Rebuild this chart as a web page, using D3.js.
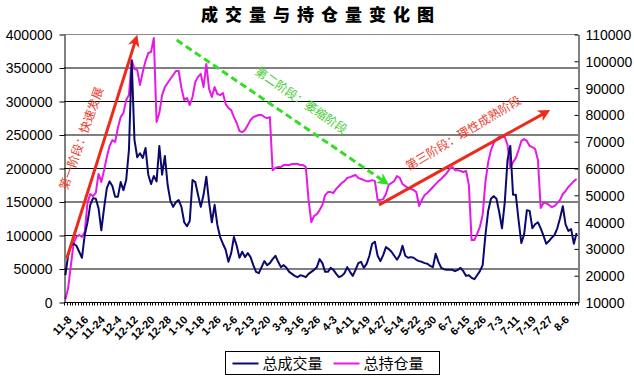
<!DOCTYPE html>
<html>
  <head>
    <meta charset="UTF-8">
    <style>
      body {
        margin: 0;
        background: #fff;
        font-family: "Liberation Sans", Arial, sans-serif;
      }
      .title {
        font-family: "Noto Sans CJK SC", sans-serif;
        font-weight: 900;
        font-size: 17px;
        letter-spacing: 7px;
      }
      .axis text {
        font-family: "Liberation Sans", Arial, sans-serif;
        font-size: 14px;
        fill: #000;
      }
      .xlabel {
        font-family: "Liberation Sans", Arial, sans-serif;
        font-size: 11px;
        font-weight: bold;
      }
      .note {
        font-family: "Noto Sans CJK SC", sans-serif;
        font-size: 12px;
      }
      .legend text {
        font-family: "Noto Sans CJK SC", sans-serif;
        font-size: 15px;
      }
    </style>
    <script src="https://cdn.jsdelivr.net/npm/d3@7"></script>
  </head>

  <body>
    <svg id="chart"></svg>

    <script type="text/javascript">
      // tick labels, one every 6 trading days
      let xLabels = ['11-8', '11-16', '11-24', '12-4', '12-12', '12-20', '12-28', '1-10', '1-18', '1-26',
        '2-6', '2-13', '2-20', '3-8', '3-16', '3-26', '4-3', '4-11', '4-19', '4-27',
        '5-14', '5-22', '5-30', '6-7', '6-15', '6-26', '7-3', '7-11', '7-19', '7-27', '8-6']
      let labelStep = 6

      // 总成交量 (left axis)
      let volume = [
        40000, 70000, 84000, 87000, 84000, 75000, 66000, 100000, 119000, 145000,
        155000, 154000, 140000, 107000, 140000, 170000, 180000, 173000, 157000, 157000,
        179000, 167000, 182000, 227000, 360000, 242000, 216000, 222000, 215000, 230000,
        190000, 176000, 188000, 180000, 233000, 190000, 218000, 175000, 151000, 142000,
        149000, 152000, 142000, 119000, 113000, 121000, 182000, 179000, 160000, 142000,
        160000, 187000, 149000, 119000, 145000, 115000, 97000, 87000, 78000, 60000,
        73000, 97000, 84000, 66000, 75000, 67000, 73000, 67000, 55000, 45000,
        43000, 52000, 61000, 55000, 58000, 64000, 69000, 60000, 52000, 55000,
        51000, 45000, 42000, 39000, 37000, 40000, 39000, 37000, 42000, 45000,
        48000, 52000, 64000, 58000, 45000, 45000, 51000, 48000, 42000, 37000,
        39000, 43000, 52000, 45000, 39000, 48000, 58000, 60000, 51000, 57000,
        69000, 87000, 90000, 69000, 61000, 70000, 82000, 79000, 75000, 69000,
        63000, 70000, 84000, 69000, 66000, 67000, 66000, 63000, 61000, 60000,
        58000, 57000, 54000, 52000, 72000, 60000, 51000, 49000, 48000, 48000,
        48000, 46000, 48000, 51000, 46000, 39000, 40000, 36000, 34000, 40000,
        46000, 55000, 100000, 136000, 154000, 158000, 154000, 134000, 110000, 149000,
        212000, 233000, 160000, 160000, 122000, 88000, 101000, 137000, 136000, 110000,
        116000, 119000, 110000, 99000, 87000, 91000, 96000, 100000, 110000, 125000,
        143000, 116000, 106000, 109000, 87000, 103000
      ]

      // 总持仓量 (right axis)
      let openInterest = [
        11000, 15200, 23800, 32000, 34300, 35000, 34300, 36100, 47000, 50300,
        49500, 50700, 57800, 54800, 59200, 64100, 68200, 70400, 69700, 74900,
        79000, 80500, 85400, 87200, 100300, 96900, 96600, 91000, 95800, 99900,
        102900, 103300, 108500, 77200, 80500, 87200, 90200, 91700, 93200, 94700,
        96200, 96200, 89800, 85400, 86100, 83500, 86500, 92100, 94000, 95100,
        90200, 98800, 89500, 86500, 90200, 87600, 87200, 88000, 83900, 82400,
        81600, 79000, 76800, 73800, 73400, 74200, 76000, 77900, 79000, 79400,
        79800, 79800, 79000, 78600, 79000, 59200, 60000, 60400, 60400, 61100,
        61100, 61100, 61500, 61500, 61500, 61100, 61100, 60400, 48100, 39800,
        42100, 42800, 44300, 46200, 49900, 51000, 51000, 50700, 52200, 53300,
        54400, 55100, 56300, 56600, 57000, 57400, 56300, 55900, 55500, 55100,
        55100, 55500, 55100, 48100, 48100, 48400, 50300, 53700, 54400, 55100,
        57000, 56300, 54000, 53300, 52500, 52200, 51800, 51000, 45800, 48100,
        49900, 50700, 51800, 52900, 54000, 55100, 55900, 57000, 58100, 59600,
        60400, 59200, 59200, 58900, 58500, 58900, 53700, 33100, 33100, 35400,
        38000, 42500, 54800, 62200, 66700, 69300, 70800, 71600, 71600, 71600,
        68600, 60000, 62200, 63700, 66700, 70100, 70800, 70100, 68200, 67800,
        67100, 63000, 45100, 46900, 46900, 46200, 45400, 45800, 46900, 48100,
        50300, 51400, 52900, 54000, 55100, 55900
      ]

      let leftTicks = [0, 50000, 100000, 150000, 200000, 250000, 300000, 350000, 400000]
      let rightTicks = [10000, 20000, 30000, 40000, 50000, 60000, 70000, 80000, 90000, 100000, 110000]

      // phase notes, in (category index, left-axis value); tilt nudges the text angle
      let phases = [
        {text: '第一阶段：快速发展', from: [0.5, 65000], to: [25.5, 392000], at: [5.8, 244000], tilt: 2, color: '#ee2a1a', textColor: '#e8402e', dashed: false},
        {text: '第二阶段：萎缩阶段', from: [40.3, 391000], to: [115.7, 179000], at: [85.3, 301000], tilt: 0, color: '#33dd22', textColor: '#44cc33', dashed: true},
        {text: '第三阶段：理性成熟阶段', from: [113.5, 145000], to: [173.9, 283000], at: [144.0, 252000], tilt: -2, color: '#ee2a1a', textColor: '#e8402e', dashed: false}
      ]

      function getConfig() {
        let width = 634
        let height = 379
        let margin = {top: 34, bottom: 77, left: 64, right: 56}
        let container = d3.select('#chart')
          .attr('width', width)
          .attr('height', height)
        return {width, height, margin, container}
      }

      function getScales(config) {
        let {width, height, margin} = config
        let xScale = d3.scaleBand()
          .domain(d3.range(volume.length))
          .range([margin.left, width - margin.right])
        let yLeft = d3.scaleLinear()
          .domain([0, 400000])
          .range([height - margin.bottom, margin.top])
        let yRight = d3.scaleLinear()
          .domain([10000, 110000])
          .range([height - margin.bottom, margin.top])
        return {xScale, yLeft, yRight}
      }

      function drawFrame(scales, config) {
        let {container, margin, width, height} = config
        let {yLeft} = scales

        container.append('text')
          .attr('class', 'title')
          .attr('x', 321)
          .attr('y', 21)
          .attr('text-anchor', 'middle')
          .text('成交量与持仓量变化图')

        container.append('g')
          .selectAll('line')
          .data(leftTicks.slice(1, -1))
          .enter()
          .append('line')
          .attr('x1', margin.left)
          .attr('x2', width - margin.right)
          .attr('y1', d => yLeft(d) + 0.5)
          .attr('y2', d => yLeft(d) + 0.5)
          .attr('stroke', '#000')

        container.append('line')
          .attr('x1', margin.left)
          .attr('x2', width - margin.right)
          .attr('y1', margin.top + 0.5)
          .attr('y2', margin.top + 0.5)
          .attr('stroke', '#888')
      }

      function drawAxes(scales, config) {
        let {xScale, yLeft, yRight} = scales
        let {container, margin, width, height} = config

        let axisL = d3.axisLeft(yLeft)
          .tickValues(leftTicks)
          .tickSizeInner(5)
          .tickSizeOuter(0)
          .tickPadding(7)
          .tickFormat(d3.format('d'))
        container.append('g')
          .attr('class', 'axis')
          .attr('transform', `translate(${margin.left + 0.5}, 0.5)`)
          .call(axisL)
          .selectAll('text').attr('dy', '0.35em')

        let axisR = d3.axisRight(yRight)
          .tickValues(rightTicks)
          .tickSizeInner(-4)
          .tickSizeOuter(0)
          .tickPadding(7)
          .tickFormat(d3.format('d'))
        container.append('g')
          .attr('class', 'axis')
          .attr('transform', `translate(${width - margin.right + 0.5}, 0.5)`)
          .call(axisR)
          .selectAll('text').attr('dy', '0.35em')

        container.selectAll('.axis path, .axis line').attr('stroke', '#000')

        let baseY = height - margin.bottom + 0.5
        let step = xScale.step()
        let xAxis = container.append('g')
        xAxis.append('line')
          .attr('x1', margin.left)
          .attr('x2', width - margin.right)
          .attr('y1', baseY)
          .attr('y2', baseY)
          .attr('stroke', '#000')
        xAxis.selectAll('.xtick')
          .data(d3.range(volume.length + 1))
          .enter()
          .append('line')
          .attr('class', 'xtick')
          .attr('x1', i => Math.round(margin.left + i * step) + 0.5)
          .attr('x2', i => Math.round(margin.left + i * step) + 0.5)
          .attr('y1', baseY)
          .attr('y2', baseY + 3)
          .attr('stroke', '#000')

        xAxis.selectAll('.xlabel')
          .data(xLabels)
          .enter()
          .append('text')
          .attr('class', 'xlabel')
          .attr('text-anchor', 'end')
          .attr('transform', (d, i) => {
            let x = xScale(i * labelStep) + xScale.bandwidth() / 2 + 7
            return `translate(${x}, ${baseY + 18}) rotate(-45)`
          })
          .text(d => d)
      }

      function drawLines(scales, config) {
        let {xScale, yLeft, yRight} = scales
        let {container} = config
        let cx = i => xScale(i) + xScale.bandwidth() / 2

        let volLine = d3.line()
          .x((d, i) => cx(i))
          .y(d => yLeft(d))
        let oiLine = d3.line()
          .x((d, i) => cx(i))
          .y(d => yRight(d))

        container.append('path')
          .datum(openInterest)
          .attr('d', oiLine)
          .attr('fill', 'none')
          .attr('stroke', '#e619e6')
          .attr('stroke-width', 2)
          .attr('stroke-linejoin', 'round')

        container.append('path')
          .datum(volume)
          .attr('d', volLine)
          .attr('fill', 'none')
          .attr('stroke', '#0a0a6e')
          .attr('stroke-width', 2)
          .attr('stroke-linejoin', 'round')
      }

      function drawPhases(scales, config) {
        let {xScale, yLeft} = scales
        let {container} = config
        let px = p => [xScale(0) + xScale.step() * (p[0] + 0.5), yLeft(p[1])]

        let defs = container.append('defs')
        phases.forEach((d, k) => {
          defs.append('marker')
            .attr('id', 'head' + k)
            .attr('viewBox', '0 0 10 10')
            .attr('refX', 6)
            .attr('refY', 5)
            .attr('markerWidth', 4)
            .attr('markerHeight', 4)
            .attr('markerUnits', 'strokeWidth')
            .attr('orient', 'auto')
            .append('path')
            .attr('d', 'M0,0 L10,5 L0,10 L3,5 Z')
            .attr('fill', d.color)
        })

        phases.forEach((d, k) => {
          let a = px(d.from)
          let b = px(d.to)
          container.append('line')
            .attr('x1', a[0]).attr('y1', a[1])
            .attr('x2', b[0]).attr('y2', b[1])
            .attr('stroke', d.color)
            .attr('stroke-width', 3)
            .attr('stroke-dasharray', d.dashed ? '7,4' : null)
            .attr('marker-end', `url(#head${k})`)

          let angle = Math.atan2(b[1] - a[1], b[0] - a[0]) * 180 / Math.PI
          if (angle > 90) angle -= 180
          if (angle < -90) angle += 180
          angle += d.tilt
          let c = px(d.at)
          container.append('text')
            .attr('class', 'note')
            .attr('text-anchor', 'middle')
            .attr('dy', '0.35em')
            .attr('transform', `translate(${c[0]}, ${c[1]}) rotate(${angle})`)
            .attr('fill', d.textColor)
            .text(d.text)
        })
      }

      function drawLegend(config) {
        let {container} = config
        let legend = container.append('g')
          .attr('class', 'legend')
          .attr('transform', 'translate(225.5, 351.5)')

        legend.append('rect')
          .attr('width', 214)
          .attr('height', 23)
          .attr('fill', '#fff')
          .attr('stroke', '#000')

        let items = [
          {name: '总成交量', color: '#0a0a6e', x: 7},
          {name: '总持仓量', color: '#e619e6', x: 108}
        ]
        let item = legend.selectAll('.item')
          .data(items)
          .enter()
          .append('g')
          .attr('transform', d => `translate(${d.x}, 12)`)
        item.append('line')
          .attr('x1', 0)
          .attr('x2', 26)
          .attr('stroke', d => d.color)
          .attr('stroke-width', 2)
        item.append('text')
          .attr('x', 30)
          .attr('dy', '0.36em')
          .text(d => d.name)
      }

      function drawChart() {
        let config = getConfig()
        let scales = getScales(config)
        drawFrame(scales, config)
        drawLines(scales, config)
        drawAxes(scales, config)
        drawPhases(scales, config)
        drawLegend(config)
      }

      drawChart()
    </script>
  </body>
</html>
